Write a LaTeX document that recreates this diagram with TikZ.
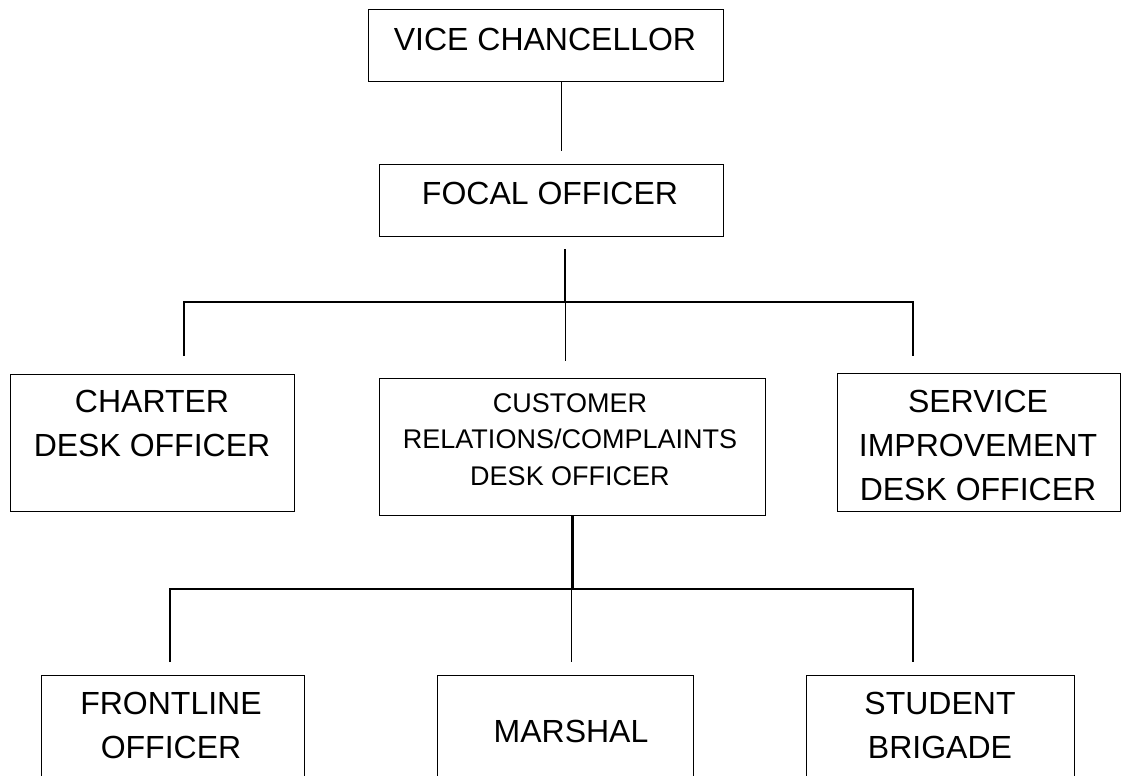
\documentclass[tikz,border=0pt]{standalone}
\usepackage{fontspec}
\setmainfont{Liberation Sans}
\tikzset{
    box/.style = {rectangle, draw=black, line width=0.7pt, anchor=north west, inner sep=0pt},
    boxsize/.style 2 args = {minimum width={#1*0.5pt}, minimum height={#2*0.5pt}},
    title/.style = {anchor=north, align=center, inner sep=0pt, font=\fontsize{16}{22}\selectfont},
    titles/.style = {anchor=north, align=center, inner sep=0pt, font=\fontsize{13.5}{18.25}\selectfont},
    linkn/.style = {line width=0.5pt},
    linkb/.style = {line width=0.9pt},
    linkt/.style = {line width=1.5pt}
}

\begin{document}
\begin{tikzpicture}[x=0.5pt, y=-0.5pt]
  \useasboundingbox (0,0) rectangle (1121,776);
  \fill[white] (0,0) rectangle (1121,776);
  \clip (0,0) rectangle (1121,776);

  % boxes
  \node[box, boxsize={355}{72}] (vc) at (368,9) {};
  \node[box, boxsize={344}{72}] (fo) at (379,164) {};
  \node[box, boxsize={284}{137}] (charter) at (10,374) {};
  \node[box, boxsize={386}{137}] (cust) at (379,378) {};
  \node[box, boxsize={283}{138}] (serv) at (837,373) {};
  \node[box, boxsize={263}{140}] (front) at (41,675) {};
  \node[box, boxsize={256}{140}] (marsh) at (437,675) {};
  \node[box, boxsize={268}{140}] (stud) at (806,675) {};

  % texts
  \node[title] (vctext) at (545,28) {VICE CHANCELLOR};
  \node[title] (fotext) at (550,182) {FOCAL OFFICER};
  \node[title] (chartertext) at (152,390) {CHARTER\\DESK OFFICER};
  \node[titles] (custtext) at (570,393) {CUSTOMER\\RELATIONS/COMPLAINTS\\DESK OFFICER};
  \node[title] (servtext) at (978,390) {SERVICE\\IMPROVEMENT\\DESK OFFICER};
  \node[title] (fronttext) at (171,692) {FRONTLINE\\OFFICER};
  \node[title] (marshtext) at (571,720) {MARSHAL};
  \node[title] (studtext) at (940,692) {STUDENT\\BRIGADE};

  % connectors
  \coordinate (vcend) at (561,151);
  \coordinate (bus1) at (565,302);
  \coordinate (d1) at (184,356);
  \coordinate (d2) at (565,361);
  \coordinate (d3) at (913,356);
  \coordinate (bus2) at (572,589);
  \coordinate (e1) at (170,662);
  \coordinate (e2) at (571,662);
  \coordinate (e3) at (913,662);

  \draw[linkn] (vc.south -| vcend) -- (vcend);
  \draw[linkb, shorten <=6pt] (fo.south -| bus1) -- (bus1);
  \draw[linkb] (d1) |- (bus1) -| (d3);
  \draw[linkn] (bus1) -- (d2);
  \draw[linkt] (cust.south -| bus2) -- (bus2);
  \draw[linkb] (e1) |- (bus2) -| (e3);
  \draw[linkn] (bus2 -| e2) -- (e2);
\end{tikzpicture}
\end{document}
